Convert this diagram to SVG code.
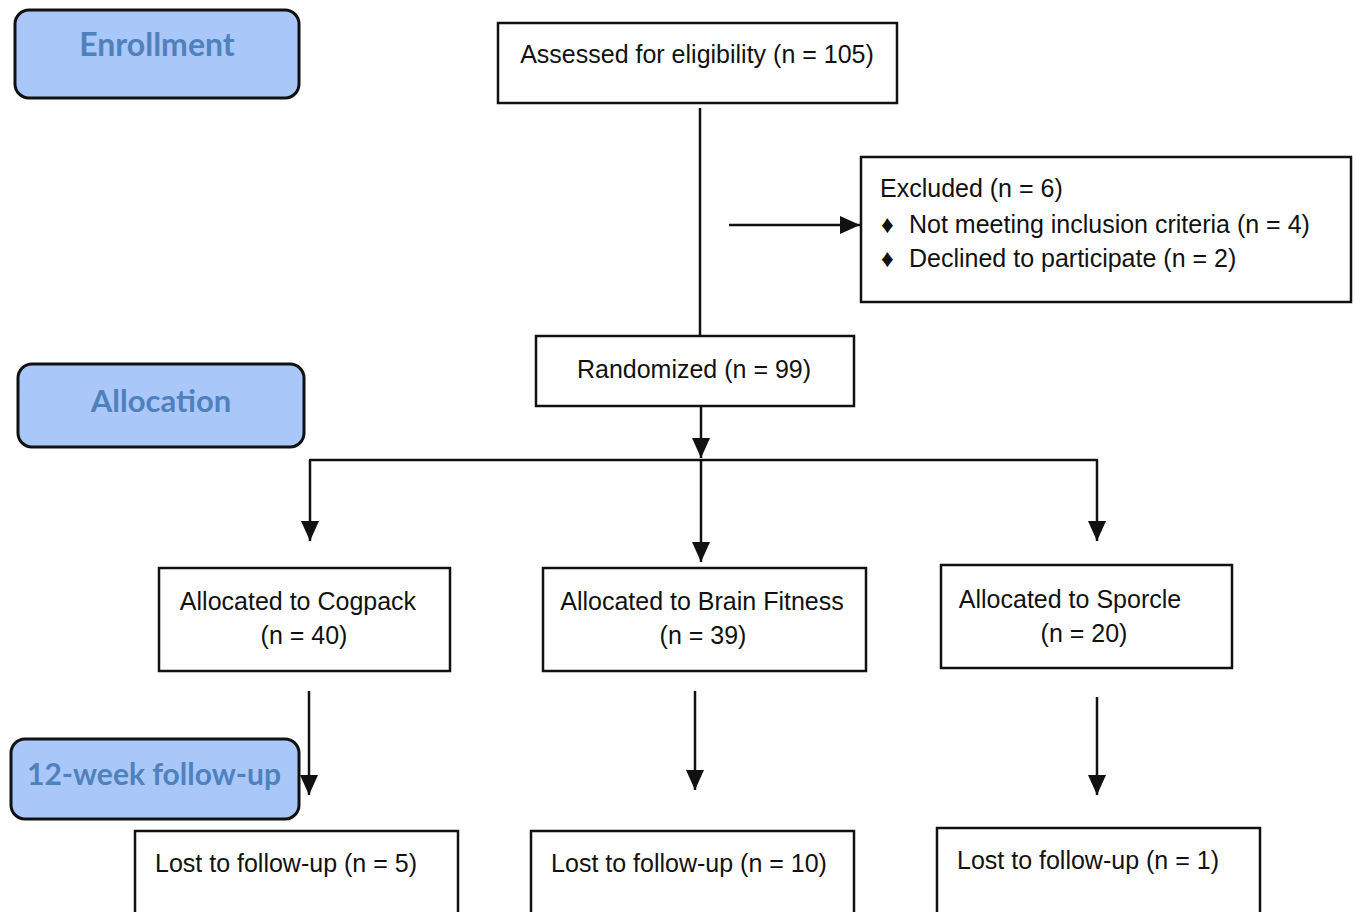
<svg xmlns="http://www.w3.org/2000/svg" width="1356" height="912" viewBox="0 0 1356 912">
<style>
.stage rect{fill:#a9c8f9;stroke:#111;stroke-width:3}
.stage text{font-family:Lato,"Open Sans",sans-serif;font-weight:bold;font-size:31px;fill:#4f81bd;text-anchor:middle}
.box rect{fill:#fff;stroke:#111;stroke-width:2.5}
.box text{font-family:"Liberation Sans",Arial,sans-serif;font-size:25px;fill:#111}
.c{text-anchor:middle}
.conn line{stroke:#111;stroke-width:2.5}
</style>
<defs>
<marker id="a" viewBox="0 0 20 18" refX="20" refY="9" markerWidth="20" markerHeight="18" markerUnits="userSpaceOnUse" orient="auto">
<path d="M0,0 L20,9 L0,18 z" fill="#111"/>
</marker>
</defs>
<rect width="1356" height="912" fill="#fff"/>
<g id="enrollment" class="stage"><rect x="15" y="10" width="284" height="88" rx="14"/><text x="157" y="56" style="font-size:32px">Enrollment</text></g>
<g id="allocation" class="stage"><rect x="18" y="364" width="286" height="83" rx="14"/><text x="161" y="412">Allocation</text></g>
<g id="followup" class="stage"><rect x="11" y="739" width="288" height="80" rx="14"/><text x="154" y="785" style="font-size:30px">12-week follow-up</text></g>
<g class="conn" id="connectors">
<line x1="700" y1="108" x2="700" y2="335"/>
<line x1="729" y1="225" x2="860" y2="225" marker-end="url(#a)"/>
<line x1="701" y1="406" x2="701" y2="458" marker-end="url(#a)"/>
<line x1="309" y1="460" x2="1098" y2="460"/>
<line x1="310" y1="460" x2="310" y2="541" marker-end="url(#a)"/>
<line x1="701" y1="460" x2="701" y2="562" marker-end="url(#a)"/>
<line x1="1097" y1="460" x2="1097" y2="541" marker-end="url(#a)"/>
<line x1="309" y1="691" x2="309" y2="795" marker-end="url(#a)"/>
<line x1="695" y1="691" x2="695" y2="790" marker-end="url(#a)"/>
<line x1="1097" y1="697" x2="1097" y2="795" marker-end="url(#a)"/>
</g>
<g id="assessed" class="box"><rect x="498" y="23" width="399" height="80"/><text x="697" y="63" class="c">Assessed for eligibility (n = 105)</text></g>
<g id="excluded" class="box"><rect x="861" y="157" width="490" height="145"/>
<text x="880" y="197">Excluded (n = 6)</text>
<text x="881" y="233">♦</text><text x="909" y="233">Not meeting inclusion criteria (n = 4)</text>
<text x="881" y="267">♦</text><text x="909" y="267">Declined to participate (n = 2)</text></g>
<g id="randomized" class="box"><rect x="536" y="336" width="318" height="70"/><text x="694" y="378" class="c">Randomized (n = 99)</text></g>
<g id="cogpack" class="box"><rect x="159" y="568" width="291" height="103"/><text x="298" y="610" class="c">Allocated to Cogpack</text><text x="304" y="644" class="c">(n = 40)</text></g>
<g id="brainfitness" class="box"><rect x="543" y="568" width="323" height="103"/><text x="702" y="610" class="c">Allocated to Brain Fitness</text><text x="703" y="644" class="c">(n = 39)</text></g>
<g id="sporcle" class="box"><rect x="941" y="565" width="291" height="103"/><text x="1070" y="608" class="c">Allocated to Sporcle</text><text x="1084" y="642" class="c">(n = 20)</text></g>
<g id="lost1" class="box"><rect x="135" y="831" width="323" height="95"/><text x="286" y="872" class="c">Lost to follow-up (n = 5)</text></g>
<g id="lost2" class="box"><rect x="531" y="831" width="323" height="95"/><text x="689" y="872" class="c">Lost to follow-up (n = 10)</text></g>
<g id="lost3" class="box"><rect x="937" y="828" width="323" height="95"/><text x="1088" y="869" class="c">Lost to follow-up (n = 1)</text></g>
</svg>
